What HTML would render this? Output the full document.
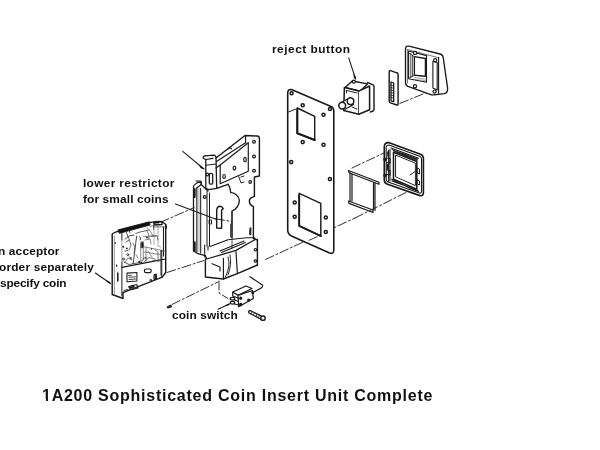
<!DOCTYPE html>
<html><head><meta charset="utf-8">
<style>
html,body{margin:0;padding:0;background:#fff;width:600px;height:450px;overflow:hidden;}
body{position:relative;font-family:"Liberation Sans",sans-serif;color:#111;}
.t{position:absolute;will-change:transform;transform:scaleX(1.08);transform-origin:0 0;font-weight:bold;font-size:11px;line-height:16px;white-space:nowrap;}
#title{position:absolute;will-change:transform;left:42px;top:386px;font-weight:bold;font-size:16px;letter-spacing:0.75px;white-space:nowrap;line-height:20px;}
svg{position:absolute;left:0;top:0;}
</style></head><body>
<svg width="600" height="450" viewBox="0 0 600 450">
<g fill="none" stroke="#1a1a1a" stroke-width="1.18" stroke-linejoin="round" stroke-linecap="round">

<!-- ===== dash-dot alignment lines ===== -->
<g stroke-dasharray="9,2.5,2,2.5" stroke-width="0.9">
<path d="M160.5,222.3 L194,207.6"/>
<path d="M167,272.5 L204,260.5"/>
<path d="M172,304.5 L218,282"/>
<path d="M265.5,259.5 L355,218"/>
<path d="M355,218 L407,192"/>
<path d="M352,168 L386,152"/>
<path d="M215.5,218.8 L232,221.5"/>
<path d="M399.9,103.4 L428.3,91.9"/>
<path d="M219,281 L219,293 L228,298.5"/>
</g>

<!-- ===== PLATE ===== -->
<path d="M291.5,89.5 Q287.7,89 287.7,93 L287.7,230 Q287.7,234.5 292,236.2 L329,252.8 Q333.8,254.8 333.8,250 L333.8,111 Q333.8,107.5 331,106.5 Z" stroke-width="1.59" fill="#fff"/>
<path d="M297.3,108 L314.7,116.3 L314.7,140 L297.3,133.3 Z" stroke-width="1.42"/>
<path d="M297.3,110 L297.3,133.3 L314.7,140" stroke-width="2.12"/>
<path d="M299.2,193.3 L320.8,203.3 L320.8,236 L299.2,225.8 Z" stroke-width="1.42"/>
<path d="M299.2,195 L299.2,225.8 L320.8,236" stroke-width="1.89"/>
<path d="M288.5,112 L297,108.5" stroke-width="0.94"/>
<g stroke-width="1.47">
<circle cx="291.6" cy="93.3" r="1.55"/><circle cx="302.7" cy="105.3" r="1.55"/><circle cx="330" cy="109" r="1.55"/><circle cx="323.5" cy="114.7" r="1.55"/>
<circle cx="302.7" cy="142.1" r="1.55"/><circle cx="323.5" cy="144.8" r="1.55"/><circle cx="291.2" cy="162.1" r="1.55"/><circle cx="329.9" cy="179.1" r="1.55"/>
<circle cx="294.7" cy="202.5" r="1.55"/><circle cx="294.7" cy="216.7" r="1.55"/><circle cx="325.8" cy="217.5" r="1.55"/><circle cx="325.8" cy="232" r="1.55"/>
</g>
<path d="M309,240.3 L320.4,235.2" stroke-dasharray="9,2.5,2,2.5" stroke-width="0.9"/>

<!-- ===== REJECT BUTTON ===== -->
<path d="M348.7,57.9 L355.6,79" stroke-width="1.06"/>
<path d="M355.50,79.50 L353.77,77.16 L353.55,73.30 L355.58,76.59 Z" fill="#111" stroke="none"/>
<path d="M367.5,82.4 L373,84.8 Q374,85.3 374,86.5 L374,109.5 Q374,110.6 373,111 L370.4,112" stroke-width="1.42"/>
<path d="M345.1,87.5 L352.3,81 L367.5,83.9 L360.3,91.1 Z" stroke-width="1.42" fill="#fff"/>
<path d="M344.4,87.5 L358.8,91.1 L358.8,114.2 L343.7,110.6 Z" stroke-width="1.53" fill="#fff"/>
<path d="M358.8,91.1 L369.6,86 L369.6,109.8 L358.8,114.2" stroke-width="1.53" fill="#fff"/>
<path d="M346.5,90.4 L357,93 M346.5,90.4 L346.5,93" stroke-width="0.94"/>
<circle cx="353.8" cy="81.7" r="1.5" fill="#fff" stroke-width="1.30"/>
<path d="M342,102 L350.5,97.5 L353.5,104.5 L345,109.3" stroke-width="1.30" fill="#fff"/>
<circle cx="350.5" cy="101.2" r="3.3" stroke-width="1.42" fill="#fff"/>
<circle cx="342.2" cy="105.6" r="3.4" stroke-width="1.53" fill="#fff"/>
<path d="M352,107 L357,109" stroke-width="0.94"/>

<!-- ===== SLOT PIECE ===== -->
<path d="M390.5,70.6 L396.8,72.8 Q398.1,73.2 398.1,74.5 L398.1,104 Q398.1,105.4 396.8,105 L390.5,102.9 Q389.2,102.5 389.2,101.2 L389.2,72 Q389.2,70.2 390.5,70.6 Z" stroke-width="1.42"/>
<path d="M391,82 L393.7,83 L393.7,101.7 L391,100.8 Z" stroke-width="1.30"/>
<path d="M391.2,85 L393.5,85.8 M391.2,87.5 L393.5,88.3 M391.2,90 L393.5,90.8 M391.2,92.5 L393.5,93.3 M391.2,95 L393.5,95.8 M391.2,97.5 L393.5,98.3" stroke-width="0.83"/>

<!-- ===== BEZEL (top right) ===== -->
<path d="M405.5,49 Q405.5,45.5 409,46.2 L440,54 Q442.8,54.8 443.2,57.5 L447.6,88 Q448,92.8 444.5,93.6 L434,94.8 Q432,95 430,94.3 L408,86.3 Q405.5,85.3 405.5,82.5 Z" stroke-width="1.35" fill="#fff"/>
<path d="M438.6,57.3 L438.6,94.4" stroke-width="1.1"/>
<path d="M407.5,49.5 L437.5,57.5 M407.5,49.5 L407.5,83" stroke-width="0.8" stroke="#555"/>
<path d="M408.6,51 L426.5,55.6 L426.5,82.2 L408.6,78.7 Z" stroke-width="1.1"/>
<path d="M414.4,56.7 L425.4,58.5 L425.4,76.4 L414.4,75.2 Z" stroke-width="1.3"/>
<path d="M410.8,53.5 L410.8,77.5 M412.6,55.5 L412.6,76.5 M409,53 L414.4,56.7 M409,78 L414.4,75.2 L425.4,76.4" stroke-width="0.8"/>
<path d="M414.4,77.5 L425.4,79 M414.4,79.5 L425.4,80.5" stroke-width="0.6" stroke="#666"/>
<path d="M432.9,61.3 L437.2,62.5 L437.2,90 L432.9,88 Z" stroke-width="1.1"/>
<circle cx="415" cy="52.9" r="1.6" stroke-width="1.2" fill="#fff"/><circle cx="435.2" cy="60.2" r="1.6" stroke-width="1.2" fill="#fff"/>
<circle cx="415" cy="86.2" r="1.6" stroke-width="1.2" fill="#fff"/><circle cx="434.6" cy="91.6" r="1.6" stroke-width="1.2" fill="#fff"/>

<!-- ===== CHUTE ===== -->
<path d="M348.5,170.5 L379,182.2 L379,184.3 L349,172.8 Z" stroke-width="1.18"/>
<path d="M350,172.5 L350,201.5 M352,174 L352,201" stroke-width="1.18"/>
<path d="M375,183 L375,210.5 M373.5,183 L373.5,209.5" stroke-width="1.18"/>
<path d="M348.5,201 L373,210 L373,212.5 L349,203.4 Z" stroke-width="1.18"/>

<!-- ===== FRAME ===== -->
<path d="M384.3,147 Q384.3,142.4 388.5,142.6 L420.5,154.3 Q423.4,155.5 423.4,158.5 L423.4,192.5 Q423.4,196.4 420,195.6 L387.5,184.3 Q384.3,183.2 384.3,180 Z" stroke-width="1.65" fill="#fff"/>
<path d="M386.2,147.5 Q386.5,145 389,145 L419.7,156.3 Q421.5,157 421.5,159 L421.5,191.5 Q421.5,193.6 419.5,193 L388,182 Q386.2,181.3 386.2,179.5 Z" stroke-width="1.06"/>
<path d="M391,148 L418.5,158.2 M390,149.5 L390,181 M388.6,150 L388.6,181.5" stroke-width="1.06"/>
<path d="M393.5,152.3 L416.8,161.5 L416.8,189.2 L393.5,179.2 Z" stroke-width="1.53"/>
<path d="M395.9,155.2 L415.4,163.2 L415.4,185.6 L395.9,176.9 Z" stroke-width="0.94"/>
<path d="M392,149.5 L417.5,159.3 M393,150.5 L417,160.3 M394.5,151.3 L416.8,160.6 M398,152.2 L417,159.5 M402,153.1 L417.5,159" stroke-width="0.83"/>
<path d="M391.6,179.2 L410,188.3 L418.5,191.5 M392,181 L418,190.5" stroke-width="1.06"/>
<path d="M417.5,168 L419.5,169 L419.5,174 L417.5,173 Z M417.5,180 L419.5,181 L419.5,185 L417.5,184 Z" stroke-width="0.94"/>
<circle cx="385" cy="159.6" r="1.4" fill="#222" stroke-width="0.94"/>
<circle cx="385" cy="175.5" r="1.4" fill="#222" stroke-width="0.94"/>
<path d="M386.5,158 L390,158.5 L390,163 L386.5,162.5 M386.5,170 L390,170.5 L390,175 L386.5,174.5" stroke-width="1.06"/>
<path d="M387.5,164.5 L387.5,169 M388,152 L388,156" stroke-width="1.65"/>
<path d="M410,175 L415,171.5" stroke-width="0.94"/>

<!-- ===== BRACKET ===== -->
<!-- left channel -->
<path d="M193.5,187 L193.5,251 L198,253.7 L205.4,255.7" stroke-width="1.30"/>
<rect x="197" y="188" width="3.5" height="64" fill="#d6d6d6" stroke="none"/>
<path d="M196.8,188 L196.8,252 M200.7,188.3 L200.7,253 M207,191 L207,246 M209.5,193 L209.5,246" stroke-width="1"/>
<path d="M193.5,187 Q193.5,185 195.5,184 L198,182.3 L201.4,182.3 L201.4,184.5 L196.5,188 M196,181 L200.7,181 L201.4,182.3 M200.7,184 L208,191" stroke-width="1.18"/>
<path d="M194.6,189 L194.6,197 M194.6,242.4 L194.6,251" stroke-width="2.2"/>
<path d="M204.7,245 L204.7,257 M208,246 L208,250" stroke-width="1.06"/>
<circle cx="204.7" cy="197" r="1.4" stroke-width="1.18"/>
<path d="M209.5,220 L211.5,220 L211.5,224 L209.5,224 Z" stroke-width="0.94"/>
<!-- tab -->
<path d="M203.3,157 Q204,155.5 206,155.8 L213.3,155.2 Q216,155.5 216,157.5 L216.7,188.3" stroke-width="1.30"/>
<path d="M203.3,157 L203.3,158.5 L206,159.5 L213,158.3" stroke-width="1.18"/>
<path d="M205.8,159.3 L205.8,188.3 L208.7,189.7 L216.7,188.3 L228,184.3" stroke-width="1.30"/>
<path d="M205.8,165.3 L216,164" stroke-width="1"/>
<path d="M209.3,174.5 Q209.3,173.3 211,173.3 Q212.7,173.3 212.7,174.5 L212.7,183 Q212.7,184.2 211,184.2 Q209.3,184.2 209.3,183 Z" stroke-width="1.30"/>
<circle cx="207.3" cy="174.5" r="1.3" stroke-width="1.18" fill="#fff"/>
<!-- upper flange -->
<path d="M216,158 L245,135.5 L257.3,136 Q259.4,136.3 259.4,138.6 L259.4,176 L254.4,177 L254.4,196.4 Q249,198 249.4,201.4 Q249.6,205 253.4,206.4 L253.4,238.5 L257.4,239.7 L257.4,265.5" stroke-width="1.42"/>
<path d="M228,149 L230.5,147.5 L231.5,149" stroke-width="1.18"/>
<path d="M216.5,161.5 L245.6,142.8 M220.2,165 L248.3,142.8" stroke-width="1.18"/>
<path d="M245.6,136 L245.6,142.8 M248.3,142.8 L248.3,171.2 L220.2,183.7 L220.2,165 L216,168" stroke-width="1.18"/>
<ellipse cx="224.1" cy="176.5" rx="1.3" ry="2" stroke-width="1.18"/>
<ellipse cx="234.4" cy="168.1" rx="1.3" ry="2" stroke-width="1.18"/>
<ellipse cx="245" cy="159.5" rx="1.3" ry="2.2" stroke-width="1.18"/>
<circle cx="254" cy="141.8" r="1.4" stroke-width="1.18"/><circle cx="254" cy="156.5" r="1.4" stroke-width="1.18"/><circle cx="254" cy="170.7" r="1.4" stroke-width="1.18"/>
<circle cx="250.2" cy="182" r="1.3" stroke-width="1.18"/>
<path d="M238.7,176.5 L241,183 L244,182 M241,177 L244,176" stroke-width="0.94"/>
<!-- back plate body curve -->
<path d="M228,184.3 Q230,186.5 230.7,192.4 Q238,193.5 239.4,200.4 Q239,208 232,211 L232,237.5" stroke-width="1.30"/>
<path d="M232,211.5 L232,248" stroke-width="0.94" stroke-dasharray="1.5,1.2"/>
<path d="M230.7,224 L230.7,237" stroke-width="0.94"/>
<path d="M250,228.5 Q250,227.5 250.8,228 L250.8,234.5 Q250,235 249.6,234 Z" stroke-width="1.06"/>
<!-- restrictor U slot -->
<path d="M216.7,228 L216.7,210.5 Q217,206.2 220,206.2 Q222.5,206.5 223.2,208.6 L221.6,210 L221.6,228.4 Z" stroke-width="1.42"/>
<!-- tray -->
<path d="M210,246.4 L228,239.7 L246.7,237.7 L254.8,237.7" stroke-width="1.06"/>
<path d="M220,251 L244,241 M221.5,252.5 L245.5,242.5" stroke-width="1.06"/>
<path d="M205.4,255.7 L206.7,259 L236,250.4 L254.8,239.7 L257.4,239.7" stroke-width="1.30"/>
<!-- lower box -->
<path d="M205.4,259 L205.4,277 L223.4,279 L237.4,273.7 L257.4,265" stroke-width="1.42"/>
<path d="M223.4,258.4 L223.4,279 M236,251.7 L237.4,273.7 M212,263.7 L220,267 L220,271" stroke-width="1.18"/>
<path d="M228,257 Q231,266 225.4,277 M230,255 Q232,264 228,275" stroke-width="0.94"/>
<circle cx="255.4" cy="249.7" r="1.2" stroke-width="1.18"/><circle cx="255.4" cy="261" r="1.2" stroke-width="1.18"/>
<!-- lower restrictor leader -->
<path d="M175.5,204 L216,219.3" stroke-width="1.06"/>
<!-- tab arrow -->
<path d="M182.7,151.3 L204,169" stroke-width="1.06"/>
<path d="M203.50,169.20 L200.80,168.13 L198.57,164.96 L202.04,166.69 Z" fill="#111" stroke="none"/>

<!-- ===== COIN ACCEPTOR ===== -->
<!-- side plate -->
<path d="M112.2,234.5 L112.2,294.5 L123,298.5 L123,293" stroke-width="1.42"/>
<path d="M112.2,234.5 Q112.5,233 114,232.8 L119.2,230.6" stroke-width="1.30"/>
<path d="M114.3,236 L114.3,294" stroke-width="0.8" stroke="#777"/>
<path d="M121.9,233 L121.9,240 M121.9,262 L121.9,296" stroke-width="1"/>
<path d="M121.9,240 L121.9,262" stroke-width="0.8" stroke="#888"/>
<circle cx="115.3" cy="243" r="1" fill="#555" stroke="none"/>
<path d="M117.8,273 L117.8,281" stroke-width="1.53"/>
<path d="M116.5,265 L116.8,266.5" stroke-width="1.18"/>
<!-- top black strip -->
<path d="M118.5,229.8 L149.4,221.8 L150,225 L119.5,233.3 Z" fill="#111" stroke-width="0.94"/>
<path d="M149.4,222.6 L154,221.9 L161.7,221.4 L165.5,224.3 L166.4,227.5 L166.4,228 M154,221.9 L154,225 L162,224.5 L162,222" stroke-width="1.30"/>
<!-- right edge -->
<path d="M165.7,224.5 L165.7,272.5 L162.3,277.1 L123,292.7" stroke-width="1.42"/>
<path d="M161.7,250 L161.7,277.5 M163.5,227 L163.5,256" stroke-width="1.06"/>
<!-- lower panel -->
<path d="M121.9,267.3 L160.5,259.8 L165.7,259" stroke-width="1.18"/>
<path d="M127,273.1 L136.9,272.5 L136.9,281 L127,281.8 Z" stroke-width="1.06"/>
<path d="M128.5,275.5 L131.5,275.2 M129,277.3 L135.5,276.8 M129,279.5 L135.5,279" stroke-width="0.83"/>
<rect x="144.4" y="269" width="6.8" height="3.6" rx="1.6" stroke-width="1.18"/>
<path d="M154.3,274.5 L156.4,274 L156.4,279 L154.3,279.5 Z" fill="#222" stroke-width="0.94"/>
<circle cx="150.7" cy="280.2" r="0.9" stroke-width="0.94"/>
<path d="M128.8,286.4 L136.9,284.6 L138,288.1 L131,289.8 Z" stroke-width="1.06"/>
<path d="M129,286.8 L134,285.6 L134.5,287.2 L130,288.5 Z" fill="#222" stroke-width="0.59"/>
<path d="M124,290.5 L128,289.5" stroke-width="0.94"/>
<!-- mechanism -->
<g stroke="#333">
<path d="M125,239 Q129,234.5 134,235 M136.7,236 Q135.5,244 134.9,250.2 Q134,257 133.1,263.6" stroke-width="0.9"/>
<path d="M124,262 L129,264.5 L142,262" stroke-width="0.8"/>
<circle cx="123.3" cy="246.7" r="1" fill="#222" stroke="none"/><circle cx="126.9" cy="248.4" r="0.9" fill="#222" stroke="none"/>
<circle cx="127.8" cy="254.7" r="1" stroke-width="0.9"/><circle cx="123.3" cy="259.1" r="1" stroke-width="0.9"/>
<circle cx="139.3" cy="261.8" r="1.1" fill="#222" stroke="none"/><circle cx="141.5" cy="262.8" r="0.9" fill="#222" stroke="none"/>
<path d="M126,242 L129,240 M125,251 L128,250.5 M129.5,257 L131,259" stroke-width="0.8"/>
<path d="M141.1,241.9 L143.3,241.5 L143.3,260.2 L141.1,260.6 Z" stroke-width="0.8" stroke="#666"/>
<path d="M141.3,242.8 L143.2,242.4 L143.2,247.5 L141.3,247.9 Z" fill="#111" stroke-width="0.6"/>
<path d="M139.5,236.5 Q141.5,238 140.2,240" stroke-width="1"/>
<path d="M144.4,246.9 L161.1,250.2 L161.1,259.1 M146,247.5 L146,258.5 M144.4,252 L160,254.5" stroke-width="0.7" stroke="#555"/>
<path d="M143.4,236.3 L155.9,236.3 M147,227.4 Q151,231 153.2,236.3" stroke-width="0.7" stroke="#555"/>
<path d="M136,233.5 L140,232 L149,230" stroke-width="0.8"/>
<path d="M154,226 L154,245 M158,225.5 L158,246 L161,247" stroke-width="0.6" stroke="#777"/>
<path d="M143,259 L146,257 L146,261" stroke-width="0.8"/>
<path d="M126,231 L128,237 M129,230 L130,233" stroke-width="0.8"/>
<path d="M154,221.5 L159.4,221 L159.4,223 L154,223.5 Z" fill="#111" stroke-width="0.6"/>
<path d="M145,240 L150,239 L151,244 M148,251 L152,257" stroke-width="0.7" stroke="#555"/>
</g>
<g stroke="#444" stroke-width="0.75">
<path d="M150,226.5 L153.6,225.5 L153.6,229.5 M153.6,226.9 L165.8,226.9" />
<path d="M147,231 Q150,235 149,239 M151,236 L157,235.5 L158,240" />
<path d="M133,243 Q136,247 134,253 M128,236 L131,245 L129,250" />
<path d="M155,250 L158,252 L158,262 M150,262 L155,260 L160,261" />
<path d="M124.5,262.5 L128,258 L132,260 M136,255 L138,258" />
<path d="M144,262 L149,257.5 L155,259" />
<path d="M160.7,251 L166,251 M160.7,251 L160.7,275" />
</g>
<circle cx="147" cy="237.5" r="0.9" fill="#222" stroke="none"/>
<circle cx="151.5" cy="249" r="0.8" fill="#222" stroke="none"/>
<circle cx="131" cy="258" r="0.8" fill="#222" stroke="none"/>
<!-- acceptor leader -->
<path d="M95.4,273 L110.5,283.5" stroke-width="1.06"/>
<path d="M111.00,283.80 L108.20,283.02 L105.66,280.10 L109.28,281.45 Z" fill="#111" stroke="none"/>

<!-- ===== COIN SWITCH ===== -->
<path d="M232.7,292 L246,286 L252,288.5 L238,295.3 Z" stroke-width="1.30" fill="#fff"/>
<path d="M238,295.5 L252.5,290.5 L253.3,298.5 L238.7,306.7 Z" stroke-width="1.30" fill="#fff"/>
<path d="M232.7,292.5 L232.7,296 L238,298" stroke-width="1.18"/>
<ellipse cx="232.5" cy="298.8" rx="2.3" ry="1.4" stroke-width="1.18"/>
<ellipse cx="232.5" cy="302.8" rx="2.3" ry="1.4" stroke-width="1.18"/>
<path d="M234.5,300 L238.5,301.5 M234.5,304 L238.5,305" stroke-width="1.06"/>
<circle cx="240.7" cy="298.2" r="1" fill="#111"/><circle cx="240.7" cy="304.5" r="1.1" fill="#111"/>
<circle cx="248.7" cy="300" r="1" fill="#111"/><circle cx="252.7" cy="292.7" r="0.9" fill="#111"/>
<path d="M250,276.7 L262.7,285.3 L262,287.5 L254,292" stroke-width="1.18"/>
<path d="M218,309.3 L229.3,304" stroke-width="1.06"/>
<path d="M230.50,303.60 L228.39,305.61 L224.59,306.30 L227.60,303.88 Z" fill="#111" stroke="none"/>
<!-- screw -->
<path d="M250,310.5 L262.5,316.5 M249,313 L261.5,319.5 M250,310.5 Q248,311 249,313" stroke-width="1.30"/>
<path d="M252,311.5 L251,314 M254.5,312.7 L253.5,315 M257,314 L256,316.5 M259.5,315 L258.5,317.8" stroke-width="0.83"/>
<circle cx="263" cy="318.2" r="2.2" stroke-width="1.42" fill="#fff"/>
<!-- small screw -->
<path d="M167.5,306.5 L171,305 L171.5,307 L168,308 Z" fill="#333" stroke-width="0.94"/>

</g>
</svg>
<div class="t" style="left:272px;top:40.5px;letter-spacing:0.46px;">reject button</div>
<div class="t" style="left:83px;top:174.6px;letter-spacing:0.3px;">lower restrictor</div>
<div class="t" style="left:83px;top:191px;letter-spacing:0.11px;">for small coins</div>
<div class="t" style="left:-2.5px;top:242.8px;letter-spacing:0.14px;">n acceptor</div>
<div class="t" style="left:-1px;top:259px;letter-spacing:0.15px;">order separately</div>
<div class="t" style="left:0px;top:274.5px;letter-spacing:-0.18px;">specify coin</div>
<div class="t" style="left:172px;top:306.5px;letter-spacing:0.1px;">coin switch</div>
<div id="title">1A200 Sophisticated Coin Insert Unit Complete</div>
<div style="position:absolute;left:42.6px;top:398.6px;width:3.2px;height:3px;background:#fff;"></div>
<div style="position:absolute;left:48.1px;top:398.6px;width:2.6px;height:3px;background:#fff;"></div>
</body></html>
